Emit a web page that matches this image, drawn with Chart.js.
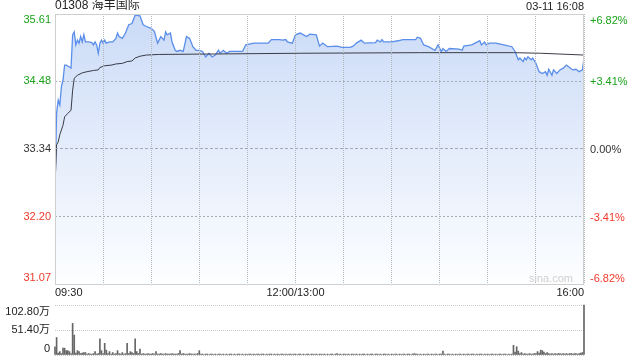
<!DOCTYPE html>
<html>
<head>
<meta charset="utf-8">
<script src="https://cdn.jsdelivr.net/npm/chart.js@4"></script>
<style>
  body { margin:0; background:#fff; width:640px; height:360px; position:relative; overflow:hidden; }
  #priceChart { position:absolute; left:0; top:0; }
  #volChart { position:absolute; left:0; top:300px; }
</style>
</head>
<body>
<canvas id="priceChart" width="640" height="300"></canvas>
<canvas id="volChart" width="640" height="60"></canvas>
<script>
const title = "01308 海丰国际";
const stamp = "03-11 16:08";
const prevClose = 33.34;
const priceTicks = [31.07, 32.20, 33.34, 34.48, 35.61];
const pctLabels = ["-6.82%", "-3.41%", "0.00%", "+3.41%", "+6.82%"];
const gridMinutes = [0, 30, 60, 90, 120, 150, 180, 210, 240, 270, 300, 330];
const timeLabelMin = [0, 150, 330];
const timeLabels = ["09:30", "12:00/13:00", "16:00"];
const volTicks = [0, 51.40, 102.80];
const volLabels = ["0", "51.40万", "102.80万"];

// minutes since 09:30 (lunch break removed)
const priceMin = [0,1,2,3,4,5,6,7,9,10,11,12,13,14,15,16,17,18,19,21,23,24,25,26,27,28,29,30,31,32,34,36,38,39,40,42,44,46,48,50,53,55,57,60,62,64,66,68,69,70,72,73,75,76,78,80,82,84,86,88,90,92,94,96,98,100,102,103,105,107,109,117,119,124,133,135,140,142,144,145,148,150,153,155,157,159,163,165,167,170,176,179,184,186,188,191,193,200,201,203,204,205,210,214,217,225,226,228,230,233,235,237,239,241,242,244,246,252,254,255,260,262,265,266,268,269,271,275,280,285,287,289,290,292,293,294,295,297,298,300,302,304,306,307,308,310,311,313,315,317,319,321,323,325,327,329,330];
const priceVal = [32.71,33.95,34.16,34.08,34.39,34.50,34.75,34.75,34.72,34.70,35.26,35.31,35.09,35.17,35.12,35.23,35.14,35.26,35.14,35.14,35.13,35.09,35.14,35.09,34.95,35.12,35.17,35.12,35.17,35.12,35.14,35.14,35.20,35.29,35.23,35.20,35.29,35.43,35.45,35.59,35.58,35.43,35.40,35.37,35.32,35.12,35.23,35.17,35.31,35.26,35.29,35.14,35.00,34.98,35.00,34.98,35.23,35.20,35.06,35.00,35.00,34.98,34.89,34.95,34.89,34.92,35.00,34.95,35.00,34.95,34.98,34.98,35.09,35.12,35.12,35.18,35.18,35.17,35.18,35.14,35.12,35.26,35.29,35.26,35.23,35.27,35.26,35.07,35.12,35.06,35.07,35.05,35.05,35.07,35.12,35.17,35.12,35.13,35.17,35.14,35.18,35.14,35.14,35.16,35.18,35.18,35.22,35.20,35.09,35.06,35.03,35.00,35.09,34.98,35.03,34.98,35.03,35.02,35.00,35.07,35.09,35.12,35.16,35.09,35.14,35.09,35.12,35.12,35.09,35.06,34.98,34.84,34.87,34.81,34.87,34.84,34.89,34.84,34.87,34.78,34.64,34.61,34.64,34.58,34.68,34.58,34.67,34.61,34.67,34.70,34.75,34.71,34.67,34.68,34.64,34.67,34.87];

const avgMin = [0,1,2,3,4,5,6,8,10,11,12,14,17,20,24,27,28,31,35,38,42,45,48,50,53,57,65,153,228,286,303,330];
const avgVal = [32.71,33.41,33.46,33.58,33.66,33.74,33.88,33.94,33.99,34.33,34.53,34.58,34.62,34.64,34.66,34.67,34.71,34.74,34.75,34.77,34.78,34.81,34.82,34.87,34.90,34.92,34.93,34.95,34.96,34.96,34.95,34.92];

// volume per minute, 万 shares (index = minute)
const volVal = [
  17,36,4,7,3,14,14,9,9,7,
  3,65,41,4,9,7,3,4,5,5,
  2,3,2,2,3,7,2,3,33,9,
  3,24,10,3,7,2,5,2,3,9,
  3,2,5,2,3,24,3,7,5,3,
  33,7,3,12,2,3,2,2,3,2,
  2,3,2,7,2,2,3,2,2,3,
  2,2,2,3,2,2,2,3,9,2,
  3,2,2,2,3,2,2,2,2,3,
  9,2,2,1,2,2,1,2,2,1,
  2,1,2,2,1,2,1,2,1,2,
  2,1,2,1,2,2,1,2,1,2,
  1,2,2,1,2,1,2,2,1,2,
  2,1,2,1,2,2,1,2,1,2,
  1,2,2,1,2,1,2,2,1,2,
  2,1,2,2,1,2,1,2,2,1,
  2,2,1,2,1,2,2,1,2,1,
  2,1,2,2,1,2,3,1,2,1,
  2,2,1,2,1,2,2,1,2,1,
  2,1,2,2,1,2,1,2,2,1,
  2,2,1,2,1,2,2,1,2,1,
  2,1,2,2,1,2,1,2,2,1,
  2,2,1,2,3,2,2,1,2,1,
  2,1,2,2,1,2,1,2,2,1,
  2,2,8,2,1,2,2,1,2,1,
  2,1,2,2,1,2,1,2,2,1,
  2,2,1,2,1,2,2,1,2,1,
  2,1,2,2,1,2,1,2,2,1,
  2,2,1,2,1,2,20,6,17,8,
  3,5,2,3,2,2,3,2,2,3,
  3,7,4,10,9,6,3,5,3,2,
  3,2,3,2,3,3,2,3,2,3,
  2,3,3,2,3,3,2,3,4,5,
  102.8
];

const FONT = '"Liberation Sans", Arial, "Noto Sans CJK SC", sans-serif';
const GREEN = "#1aa31a";
const RED = "#f0392b";
const GRID = "#b2b6be";

function labelColor(v) {
  if (v > prevClose) return GREEN;
  if (v < prevClose) return RED;
  return "#333";
}

const priceDecor = {
  id: "priceDecor",
  afterDraw(chart) {
    const ctx = chart.ctx;
    const a = chart.chartArea;
    const y = chart.scales.y;
    const x = chart.scales.x;
    ctx.save();
    ctx.strokeStyle = "#cfcfcf";
    ctx.lineWidth = 1;
    ctx.strokeRect(a.left + 0.5, a.top + 0.5, a.right - a.left - 1, a.bottom - a.top);

    ctx.font = "12px " + FONT;
    ctx.fillStyle = "#222";
    ctx.textBaseline = "middle";
    ctx.textAlign = "left";
    ctx.fillText(title, a.left, 6);
    ctx.font = "11px " + FONT;
    ctx.textAlign = "right";
    ctx.fillText(stamp, a.right, 7);

    priceTicks.forEach((v, i) => {
      let py = y.getPixelForValue(v);
      if (i === priceTicks.length - 1) py += 6;
      if (i === 0) py -= 6;
      ctx.fillStyle = labelColor(v);
      ctx.textAlign = "right";
      ctx.fillText(v.toFixed(2), a.left - 4, py);
      ctx.textAlign = "left";
      ctx.fillText(pctLabels[i], a.right + 6, py + 1);
    });

    ctx.fillStyle = "#222";
    timeLabelMin.forEach((m, i) => {
      ctx.textAlign = i === 0 ? "left" : (i === timeLabelMin.length - 1 ? "right" : "center");
      ctx.fillText(timeLabels[i], x.getPixelForValue(m), a.bottom + 9);
    });

    ctx.fillStyle = "#d0d0d0";
    ctx.font = "11px " + FONT;
    ctx.textAlign = "right";
    ctx.fillText("sina.com", a.right - 11, a.bottom - 5);
    ctx.restore();
  }
};

new Chart(document.getElementById("priceChart"), {
  type: "line",
  data: {
    datasets: [
      {
        data: avgMin.map((m, i) => ({ x: m, y: avgVal[i] })),
        borderColor: "#3a3d48",
        borderWidth: 1,
        pointRadius: 0,
        fill: false,
        order: 0
      },
      {
        data: priceMin.map((m, i) => ({ x: m, y: priceVal[i] })),
        borderColor: "#5a8eea",
        borderWidth: 1.3,
        pointRadius: 0,
        fill: "start",
        order: 1,
        backgroundColor: c => {
          const a = c.chart.chartArea;
          if (!a) return "rgba(200,218,248,0.8)";
          const g = c.chart.ctx.createLinearGradient(0, a.top, 0, a.bottom);
          g.addColorStop(0, "#cbdbf7");
          g.addColorStop(1, "#fdfeff");
          return g;
        }
      }
    ]
  },
  options: {
    responsive: false,
    animation: false,
    layout: { padding: { top: 14 } },
    plugins: { legend: { display: false }, tooltip: { enabled: false } },
    scales: {
      x: {
        type: "linear", min: 0, max: 330,
        afterBuildTicks: s => { s.ticks = gridMinutes.map(v => ({ value: v })); },
        afterFit: s => { s.height = 16; },
        ticks: { display: false },
        grid: { color: GRID, drawTicks: false, z: 1 },
        border: { display: false, dash: [1, 1] }
      },
      y: {
        position: "left", min: 31.07, max: 35.61,
        afterBuildTicks: s => { s.ticks = priceTicks.map(v => ({ value: v })); },
        afterFit: s => { s.width = 55; },
        ticks: { display: false },
        grid: { color: c => c.tick && c.tick.value === prevClose ? "#a4a8b0" : "#a8acb4", drawTicks: false, z: 1 },
        border: { display: false, dash: c => c.tick && c.tick.value === prevClose ? [3, 2] : [2, 2] }
      },
      y2: {
        position: "right", min: 31.07, max: 35.61,
        afterFit: s => { s.width = 56; },
        ticks: { display: false },
        grid: { display: false, drawTicks: false },
        border: { display: false }
      }
    }
  },
  plugins: [priceDecor]
});

const volDecor = {
  id: "volDecor",
  afterDraw(chart) {
    const ctx = chart.ctx;
    const a = chart.chartArea;
    const y = chart.scales.y;
    ctx.save();
    ctx.font = "11px " + FONT;
    ctx.fillStyle = "#222";
    ctx.textAlign = "right";
    ctx.textBaseline = "middle";
    volTicks.forEach((v, i) => {
      let py = y.getPixelForValue(v);
      if (i === volTicks.length - 1) py += 7;
      if (i === 0) py -= 6;
      ctx.fillText(volLabels[i], a.left - 5, py);
    });
    ctx.restore();
  }
};

new Chart(document.getElementById("volChart"), {
  type: "bar",
  data: {
    datasets: [{
      data: volVal.map((v, i) => ({ x: i, y: v })),
      backgroundColor: "#666",
      barThickness: 1,
      clip: 2
    }]
  },
  options: {
    responsive: false,
    animation: false,
    layout: { padding: { top: 5, right: 56, bottom: 5 } },
    plugins: { legend: { display: false }, tooltip: { enabled: false } },
    scales: {
      x: { type: "linear", min: 0, max: 330, offset: false, display: false },
      y: {
        min: 0, max: 102.8,
        afterBuildTicks: s => { s.ticks = volTicks.map(v => ({ value: v })); },
        afterFit: s => { s.width = 55; },
        ticks: { display: false },
        grid: { color: "#c8c8c8", drawTicks: false },
        border: { display: false, dash: [1, 1] }
      }
    }
  },
  plugins: [volDecor]
});
</script>
</body>
</html>
